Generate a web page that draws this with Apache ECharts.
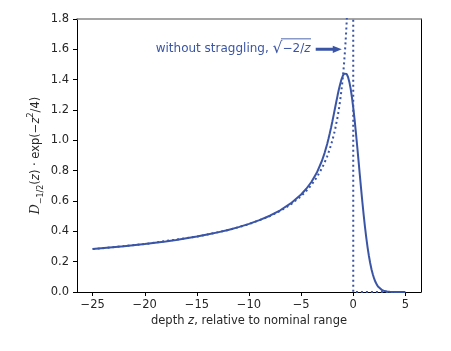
<!DOCTYPE html>
<html><head><meta charset="utf-8">
<script src="https://cdn.jsdelivr.net/npm/echarts@6/dist/echarts.min.js"></script>
<style>html,body{margin:0;padding:0;background:#fff}#c{width:451px;height:351px}</style>
</head><body><div id="c"></div>
<script>
// depth z (relative to nominal range) and D_{-1/2}(z)·exp(-z^2/4)
const zSolid = [-25,-22,-20,-18,-17,-15,-14,-13,-12,-11,-10,-9,-8,-7,-6,-5,-4.5,-4,-3.5,-3,-2.75,-2.5,-2.375,-2.25,-2.125,-2,-1.875,-1.75,-1.625,-1.5,-1.375,-1.25,-1.125,-1,-0.875,-0.75,-0.625,-0.5,-0.375,-0.25,-0.125,0,0.125,0.25,0.375,0.5,0.625,0.75,0.875,1,1.125,1.25,1.375,1.5,1.625,1.75,1.875,2,2.125,2.25,2.375,2.5,2.75,3,3.25,3.5,4,4.5,5];
const fSolid = [0.2830,0.3017,0.3165,0.3337,0.3434,0.3658,0.3787,0.3931,0.4093,0.4277,0.4489,0.4736,0.5030,0.5388,0.5838,0.6430,0.6808,0.7269,0.7860,0.8655,0.9161,0.9763,1.0101,1.0464,1.0850,1.1258,1.1681,1.2113,1.2546,1.2967,1.3363,1.3721,1.4024,1.4255,1.4399,1.4440,1.4368,1.4174,1.3853,1.3406,1.2839,1.2163,1.1392,1.0544,0.9642,0.8708,0.7765,0.6834,0.5935,0.5086,0.4299,0.3584,0.2947,0.2389,0.1909,0.1504,0.1168,0.0894,0.0674,0.0501,0.0367,0.0265,0.0132,0.0062,0.0027,0.0011,0.0002,0.0000,0.0000];
// without straggling, sqrt(-2/z) (zero beyond the nominal range)
const zDotted = [-25,-20,-15,-12,-10,-8,-7,-6,-5,-4.5,-4,-3.5,-3,-2.75,-2.5,-2.25,-2,-1.75,-1.5,-1.375,-1.25,-1.125,-1,-0.9,-0.8,-0.75,-0.7,-0.65,-0.6,-0.5,-0.4,-0.3,-0.2,-0.1,-0.05,-0.02,-0.01,0,5];
const fDotted = [0.2828,0.3162,0.3651,0.4082,0.4472,0.5,0.5345,0.5774,0.6325,0.6667,0.7071,0.7559,0.8165,0.8528,0.8944,0.9428,1.0,1.0690,1.1547,1.2060,1.2649,1.3333,1.4142,1.4907,1.5811,1.6330,1.6903,1.7541,1.8257,2.0,2.2361,2.5820,3.1623,4.4721,6.3246,10.0,14.1421,0,0];
const xTicks = [-25,-20,-15,-10,-5,0,5];
const yTicks = [0,0.2,0.4,0.6,0.8,1.0,1.2,1.4,1.6,1.8];
const annotationLabel = 'without straggling, ';
const annotationRadicand = '\u22122/';
const annotationVar = 'z';

const BLUE = '#3b55a6';
const TXT = '#262626';
const FONT = 'DejaVu Sans';
const FS = 11.5;
const AFS = 12;
const minus = v => String(v).replace('-', '\u2212');
const zip = (a, b) => a.map((x, i) => [x, b[i]]);

const chart = echarts.init(document.getElementById('c'), null, {renderer: 'canvas'});
chart.setOption({
  animation: false,
  backgroundColor: '#fff',
  grid: {left: 77, right: 30, top: 19, bottom: 59},
  xAxis: [{
    type: 'value', min: -26.5, max: 6.5,
    axisLine: {onZero: false, lineStyle: {color: '#000', width: 1}},
    axisTick: {customValues: xTicks, length: 4, lineStyle: {color: '#000'}},
    axisLabel: {customValues: xTicks, formatter: v => minus(v), margin: 7, fontSize: FS, color: TXT, fontFamily: FONT},
    splitLine: {show: false},
    name: '{n|depth }{i|z}{n|, relative to nominal range}',
    nameLocation: 'middle', nameGap: 23, nameMoveOverlap: false,
    nameTextStyle: {rich: {
      n: {fontSize: FS, fontFamily: FONT, color: TXT},
      i: {fontSize: FS, fontFamily: FONT, color: TXT, fontStyle: 'italic'}
    }}
  }, {
    type: 'value', min: -26.5, max: 6.5, position: 'top',
    axisLine: {onZero: false, lineStyle: {color: '#888', width: 1.5}},
    axisTick: {show: false}, axisLabel: {show: false}, splitLine: {show: false}
  }],
  yAxis: [{
    type: 'value', min: 0, max: 1.8, interval: 0.2,
    axisLine: {show: true, onZero: false, lineStyle: {color: '#000', width: 1}},
    axisTick: {show: true, length: 4, lineStyle: {color: '#000'}},
    axisLabel: {formatter: v => v.toFixed(1), margin: 8, fontSize: FS, color: TXT, fontFamily: FONT},
    splitLine: {show: false},
    name: '{D|D}{sub|\u22121/2}{n|(}{i|z}{n|) \u00b7 exp(\u2212}{i|z}{sup|2}{n|/4)}',
    nameLocation: 'middle', nameRotate: 90, nameGap: 32, nameMoveOverlap: false,
    nameTextStyle: {rich: {
      n: {fontSize: FS, fontFamily: FONT, color: TXT, lineHeight: 18},
      i: {fontSize: FS, fontFamily: FONT, color: TXT, fontStyle: 'italic', lineHeight: 18},
      D: {fontSize: 12.5, fontFamily: 'DejaVu Serif', color: TXT, fontStyle: 'italic', lineHeight: 18},
      sub: {fontSize: 8, fontFamily: FONT, color: TXT, lineHeight: 9, verticalAlign: 'bottom'},
      sup: {fontSize: 8, fontFamily: FONT, color: TXT, lineHeight: 9, verticalAlign: 'top'}
    }}
  }, {
    type: 'value', min: 0, max: 1.8, position: 'right',
    axisLine: {show: true, onZero: false, lineStyle: {color: '#000', width: 1}},
    axisTick: {show: false}, axisLabel: {show: false}, splitLine: {show: false}
  }],
  series: [{
    type: 'line', data: zip(zDotted, fDotted), showSymbol: false, symbol: 'none', clip: true,
    lineStyle: {color: BLUE, width: 2, type: [2, 3], cap: 'butt'}, z: 2
  }, {
    type: 'line', data: zip(zSolid, fSolid), showSymbol: false, symbol: 'none', clip: true,
    lineStyle: {color: BLUE, width: 2}, z: 3
  }]
});

// annotation: text + arrow pointing at the dotted curve at value 1.6
const annY = 1.6, textEndZ = -4.1, arrowStartZ = -3.6, arrowEndZ = -1.1;
const pText = chart.convertToPixel({gridIndex: 0}, [textEndZ, annY]);
const pA0 = chart.convertToPixel({gridIndex: 0}, [arrowStartZ, annY]);
const pA1 = chart.convertToPixel({gridIndex: 0}, [arrowEndZ, annY]);
const ctx = document.createElement('canvas').getContext('2d');
ctx.font = AFS + 'px "' + FONT + '"';
const wRad = ctx.measureText(annotationRadicand).width;
ctx.font = 'italic ' + AFS + 'px "' + FONT + '"';
const wVar = ctx.measureText(annotationVar).width;
const wOver = wRad + wVar + 1.5;
const sh = 1.5, hl = 9, hw = 3.6;
chart.setOption({graphic: [{
  type: 'text', x: pText[0], y: pText[1],
  style: {
    text: '{n|' + annotationLabel + '}{r|\u221a}{n|' + annotationRadicand + '}{i|' + annotationVar + '}',
    align: 'right', verticalAlign: 'middle',
    rich: {
      n: {fontSize: AFS, fontFamily: FONT, fill: BLUE},
      i: {fontSize: AFS, fontFamily: FONT, fill: BLUE, fontStyle: 'italic'},
      r: {fontSize: 15.5, fontFamily: FONT, fill: BLUE}
    }
  }
}, {
  type: 'line',
  shape: {x1: pText[0] - wOver, y1: pText[1] - 10.5, x2: pText[0] + 0.5, y2: pText[1] - 10.5},
  style: {stroke: BLUE, lineWidth: 0.9}
}, {
  type: 'polygon',
  shape: {points: [
    [pA0[0], pA1[1] - sh], [pA1[0] - hl, pA1[1] - sh], [pA1[0] - hl, pA1[1] - hw],
    [pA1[0], pA1[1]],
    [pA1[0] - hl, pA1[1] + hw], [pA1[0] - hl, pA1[1] + sh], [pA0[0], pA1[1] + sh]
  ]},
  style: {fill: BLUE}
}]});
</script>
</body></html>
